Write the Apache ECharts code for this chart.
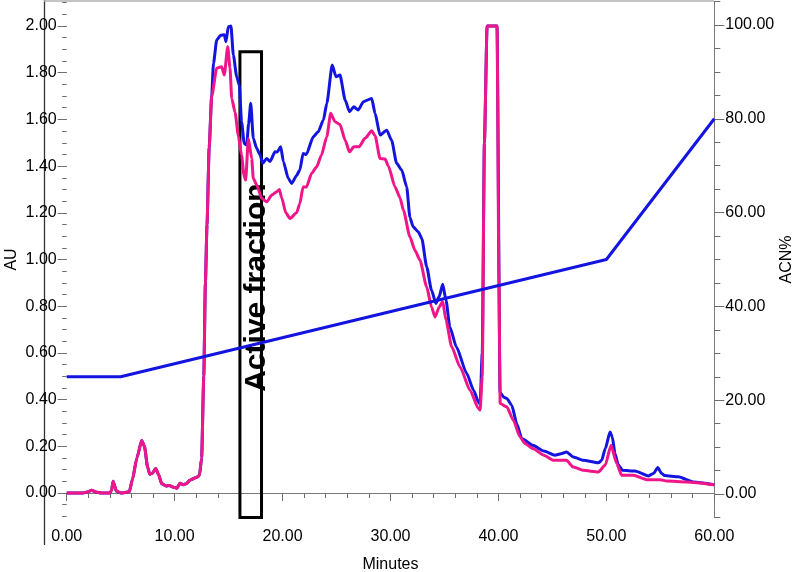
<!DOCTYPE html>
<html>
<head>
<meta charset="utf-8">
<script src="https://cdn.jsdelivr.net/npm/echarts@6/dist/echarts.min.js"></script>
<style>
  html, body { margin: 0; padding: 0; background: #fff; }
  #main { width: 797px; height: 572px; }
</style>
</head>
<body>
<div id="main"></div>
<script>
// shared start of both traces (minutes, AU) - curves overlap here
const commonTrace = [
  [0, 0], [1.5, 0], [2.0, 0.005], [2.3, 0.012], [2.7, 0.004], [3.2, 0], [4.0, 0],
  [4.15, 0.01], [4.3, 0.05], [4.45, 0.03], [4.6, 0.008], [5.0, 0], [5.8, 0.005],
  [6.1, 0.06], [6.5, 0.15], [6.95, 0.225], [7.2, 0.2], [7.5, 0.11], [7.7, 0.08],
  [7.95, 0.085], [8.25, 0.105], [8.5, 0.08], [8.8, 0.04], [9.2, 0.03], [9.5, 0.032],
  [9.9, 0.025], [10.2, 0.02], [10.5, 0.042], [10.8, 0.035], [11.1, 0.04], [11.4, 0.055],
  [12.0, 0.066], [12.3, 0.075], [12.5, 0.15], [12.7, 0.5], [12.85, 0.9], [13.0, 1.15],
  [13.2, 1.48]
];

// blue trace after the split
const blueTail = [
  [13.43, 1.70], [13.6, 1.84], [13.9, 1.94], [14.27, 1.96], [14.6, 1.963], [14.76, 1.933],
  [14.97, 1.997], [15.22, 2.0], [15.44, 1.876], [15.75, 1.783], [15.99, 1.747], [16.2, 1.59],
  [16.45, 1.497], [16.68, 1.49], [16.85, 1.58], [17.05, 1.669], [17.29, 1.519], [17.6, 1.476],
  [17.9, 1.45], [18.16, 1.412], [18.53, 1.433], [18.84, 1.42], [19.3, 1.461], [19.5, 1.46],
  [19.83, 1.483], [20.07, 1.42], [20.53, 1.347], [20.85, 1.326], [21.3, 1.36], [21.6, 1.383],
  [21.9, 1.454], [22.2, 1.45], [22.85, 1.526], [23.3, 1.547], [23.78, 1.597], [24.1, 1.669],
  [24.6, 1.833], [24.95, 1.783], [25.32, 1.79], [25.8, 1.683], [26.2, 1.633], [26.6, 1.654],
  [27.0, 1.64], [27.5, 1.676], [28.26, 1.69], [28.57, 1.626], [29.03, 1.533], [29.65, 1.554],
  [30.1, 1.511], [30.57, 1.412], [31.04, 1.383], [31.5, 1.311], [31.8, 1.18], [32.1, 1.14],
  [32.58, 1.118], [32.9, 1.09], [33.35, 0.969], [33.8, 0.869], [34.2, 0.812], [34.5, 0.84],
  [34.84, 0.894], [35.14, 0.826], [35.5, 0.711], [36.1, 0.626], [37.06, 0.512], [37.7, 0.44],
  [38.14, 0.39], [38.3, 0.38], [38.5, 0.6], [38.7, 1.5], [38.95, 2.0], [39.87, 2.0],
  [40.15, 0.43], [40.5, 0.41], [40.77, 0.405], [41.23, 0.376], [41.7, 0.297], [42.16, 0.233],
  [43.2, 0.204], [44.2, 0.18], [45.24, 0.162], [45.8, 0.168], [46.3, 0.176], [46.94, 0.154],
  [47.86, 0.14], [49.26, 0.129], [49.57, 0.14], [49.9, 0.19], [50.34, 0.261], [50.55, 0.24],
  [50.8, 0.169], [51.1, 0.12], [51.5, 0.097], [52.65, 0.094], [53.9, 0.073], [54.4, 0.085],
  [54.76, 0.109], [55.1, 0.085], [55.4, 0.075], [56.67, 0.069], [58.06, 0.047], [60, 0.035]
];

// pink trace after the split
const pinkTail = [
  [13.43, 1.697], [13.9, 1.819], [14.36, 1.826], [14.6, 1.79], [14.92, 1.911], [15.13, 1.82],
  [15.29, 1.69], [15.6, 1.63], [15.9, 1.53], [16.2, 1.447], [16.43, 1.36], [16.58, 1.34],
  [16.83, 1.518], [17.14, 1.433], [17.29, 1.347], [17.6, 1.32], [18.07, 1.262], [18.53, 1.247],
  [19.0, 1.276], [19.46, 1.29], [19.7, 1.30], [19.92, 1.265], [20.3, 1.2], [20.69, 1.176],
  [21.3, 1.2], [21.6, 1.24], [21.9, 1.311], [22.2, 1.31], [22.7, 1.369], [23.16, 1.397],
  [23.6, 1.447], [24.1, 1.526], [24.46, 1.626], [24.86, 1.59], [25.32, 1.578], [25.8, 1.511],
  [26.2, 1.461], [26.6, 1.483], [27.1, 1.483], [27.64, 1.519], [28.26, 1.551], [28.57, 1.53],
  [29.03, 1.433], [29.5, 1.43], [29.8, 1.40], [30.42, 1.311], [30.88, 1.265], [31.2, 1.21],
  [31.8, 1.097], [32.26, 1.04], [32.73, 0.997], [33.35, 0.883], [33.8, 0.797], [34.12, 0.754],
  [34.52, 0.797], [34.84, 0.82], [35.14, 0.74], [35.67, 0.626], [36.44, 0.54], [37.37, 0.44],
  [38.14, 0.362], [38.3, 0.355], [38.5, 0.5], [38.7, 1.5], [38.95, 2.0], [39.87, 2.0],
  [40.05, 0.9], [40.16, 0.383], [40.77, 0.369], [41.38, 0.312], [42.0, 0.24], [42.46, 0.212],
  [43.2, 0.19], [44.2, 0.162], [45.1, 0.14], [46.3, 0.14], [46.94, 0.111], [47.86, 0.097],
  [49.26, 0.09], [49.9, 0.12], [50.43, 0.204], [50.96, 0.126], [51.42, 0.076], [52.5, 0.076],
  [53.74, 0.057], [54.97, 0.057], [55.6, 0.051], [57.45, 0.047], [60, 0.035]
];

// acetonitrile gradient (minutes, ACN%)
const gradientTime = [0, 5, 50, 60];
const gradientACN = [25, 25, 50, 80];

// active fraction window (minutes) and box top (AU)
const activeFraction = [16.05, 18.05];
const activeTop = 1.89;

// axis ticks
const minuteLabels = [0, 10, 20, 30, 40, 50, 60];
const auLabels = [0, 0.2, 0.4, 0.6, 0.8, 1.0, 1.2, 1.4, 1.6, 1.8, 2.0];
const acnLabels = [0, 20, 40, 60, 80, 100];

const AU_MIN = -0.105, AU_MAX = 2.105;
const ACN_MIN = -5, ACN_MAX = 105;

var auMinor = [];
for (var i = -2; i <= 42; i++) auMinor.push(+(i * 0.05).toFixed(2));
var acnMinor = [];
for (var j = -1; j <= 21; j++) acnMinor.push(j * 5);

var blueTrace = commonTrace.concat(blueTail);
var pinkTrace = commonTrace.concat(pinkTail);
var gradientData = gradientTime.map(function (t, k) { return [t, gradientACN[k]]; });

var FONT = "'Liberation Sans', Arial, sans-serif";
var BLUE = "#1414e0";
var PINK = "#f0168a";
var TICK = "#6e6e6e";

var chart = echarts.init(document.getElementById("main"), null, { renderer: "canvas" });

var option = {
  animation: false,
  backgroundColor: "#fff",
  textStyle: { fontFamily: FONT },
  grid: { left: 66.7, right: 82.7, top: 1.5, bottom: 54.5, containLabel: false, outerBoundsMode: "none" },
  xAxis: {
    type: "value",
    min: 0,
    max: 60,
    interval: 10,
    name: "Minutes",
    nameLocation: "middle",
    nameGap: 39,
    nameMoveOverlap: false,
    nameTextStyle: { fontSize: 16, color: "#000", fontFamily: FONT },
    axisLine: { show: true, lineStyle: { color: "#7a7a7a", width: 1 } },
    axisTick: { show: true, length: 8, lineStyle: { color: TICK } },
    minorTick: { show: true, splitNumber: 5, length: 5, lineStyle: { color: TICK } },
    splitLine: { show: false },
    axisLabel: {
      fontSize: 16, color: "#000", margin: 11, fontFamily: FONT,
      customValues: minuteLabels,
      formatter: function (v) { return v.toFixed(2); }
    }
  },
  yAxis: [
    {
      type: "value",
      position: "left",
      min: AU_MIN,
      max: AU_MAX,
      name: "AU",
      nameLocation: "middle",
      nameGap: 47,
      nameMoveOverlap: false,
      nameRotate: 90,
      nameTextStyle: { fontSize: 16, color: "#000", fontFamily: FONT },
      axisLine: { show: false },
      splitLine: { show: false },
      axisTick: { show: true, length: 9, customValues: auLabels, lineStyle: { color: TICK } },
      axisLabel: {
        fontSize: 16, color: "#000", margin: 10, fontFamily: FONT,
        customValues: auLabels,
        formatter: function (v) { return v.toFixed(2); }
      }
    },
    {
      type: "value",
      position: "left",
      min: AU_MIN,
      max: AU_MAX,
      axisLine: { show: false },
      splitLine: { show: false },
      axisLabel: { show: false },
      axisTick: { show: true, length: 4.5, customValues: auMinor, lineStyle: { color: TICK } }
    },
    {
      type: "value",
      position: "right",
      min: ACN_MIN,
      max: ACN_MAX,
      name: "ACN%",
      nameLocation: "middle",
      nameGap: 64,
      nameMoveOverlap: false,
      nameRotate: 90,
      nameTextStyle: { fontSize: 16, color: "#000", fontFamily: FONT },
      axisLine: { show: true, lineStyle: { color: "#7a7a7a", width: 1 } },
      splitLine: { show: false },
      axisTick: { show: true, length: 10, customValues: acnLabels, lineStyle: { color: TICK } },
      axisLabel: {
        fontSize: 16, color: "#000", margin: 11, fontFamily: FONT,
        customValues: acnLabels,
        formatter: function (v) { return v.toFixed(2); }
      }
    },
    {
      type: "value",
      position: "right",
      min: ACN_MIN,
      max: ACN_MAX,
      axisLine: { show: false },
      splitLine: { show: false },
      axisLabel: { show: false },
      axisTick: { show: true, length: 6, customValues: acnMinor, lineStyle: { color: TICK } }
    }
  ],
  // frame lines around the plot
  graphic: [
    { type: "line", z: -10, shape: { x1: 44.5, y1: 0, x2: 44.5, y2: 545 }, style: { stroke: "#333", lineWidth: 1.3 } },
    { type: "line", z: -10, shape: { x1: 44, y1: 1, x2: 714, y2: 1 }, style: { stroke: "#b0b0b0", lineWidth: 1.5 } }
  ],
  series: [
    {
      name: "blue",
      type: "line",
      yAxisIndex: 0,
      data: blueTrace,
      showSymbol: false,
      smooth: 0.2,
      smoothMonotone: "x",
      lineStyle: { color: BLUE, width: 3 },
      z: 3
    },
    {
      name: "pink",
      type: "line",
      yAxisIndex: 0,
      data: pinkTrace,
      showSymbol: false,
      smooth: 0.2,
      smoothMonotone: "x",
      lineStyle: { color: PINK, width: 3 },
      z: 4,
      markArea: {
        silent: true,
        itemStyle: { color: "rgba(0,0,0,0)", borderColor: "#000", borderWidth: 3 },
        label: {
          show: true,
          position: "inside",
          rotate: 90,
          formatter: "Active fraction",
          fontSize: 30,
          fontWeight: "bold",
          color: "#000",
          fontFamily: FONT,
          offset: [-3, 6]
        },
        data: [[
          { xAxis: activeFraction[0], yAxis: activeTop },
          { xAxis: activeFraction[1], yAxis: AU_MIN }
        ]]
      }
    },
    {
      name: "ACN%",
      type: "line",
      yAxisIndex: 2,
      data: gradientData,
      showSymbol: false,
      lineStyle: { color: BLUE, width: 3 },
      z: 6
    }
  ]
};

chart.setOption(option);
</script>
</body>
</html>
